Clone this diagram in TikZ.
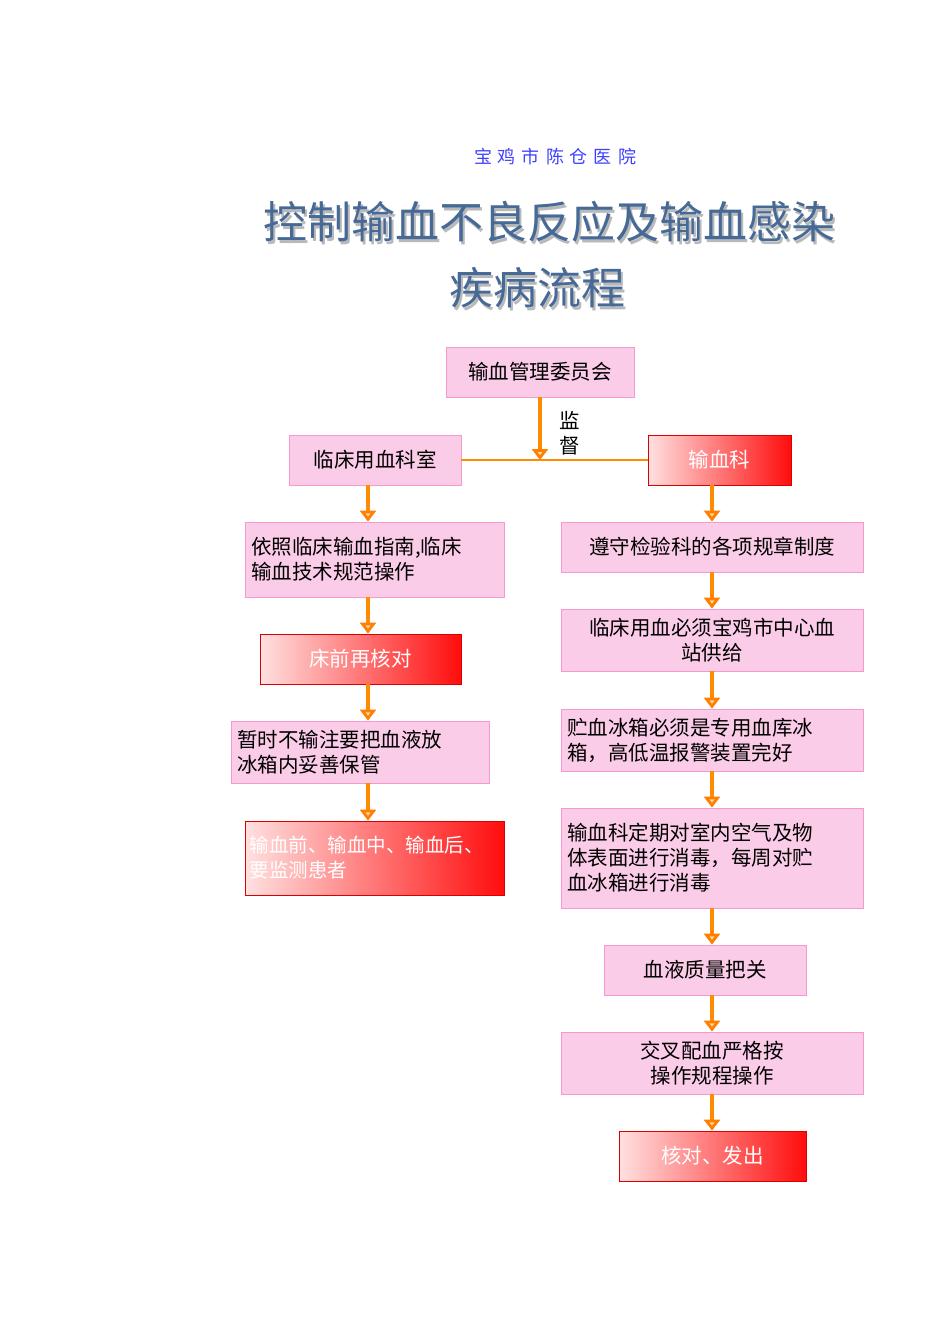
\documentclass[tikz,border=0pt]{standalone}
\usepackage{fontspec}
\newfontfamily\cjk{Noto Sans CJK SC}
\usetikzlibrary{arrows.meta,shadows}
\begin{document}
\begin{tikzpicture}[x=1pt,y=-1pt,font=\cjk\fontsize{20.5}{25}\selectfont,
  pbox/.style={draw=magenta!40,fill=magenta!20,line width=0.8pt,inner sep=4pt},
  rbox/.style={draw=red!85!black,line width=0.8pt,shading angle=60,left color=red!12,right color=red!95,text=white,inner sep=4pt},
  flow/.style={draw=orange!90!yellow,line width=4.5pt,-{Triangle[width=16pt,length=11pt,fill=orange!35,color=orange]}},
  hline/.style={draw=orange!90!yellow,line width=2.5pt}]
\useasboundingbox (0,0) rectangle (950,1344);
\coordinate (cl) at (368,0);
\coordinate (cr) at (712,0);
\node (hosp) at (555,157) {\fontsize{18}{20}\selectfont\color{blue!75}宝\,\,鸡\,\,市\,\,陈\,\,仓\,\,医\,\,院};
\node[text=gray!55] (s1) at (551.5,224.5) {\fontsize{44}{48}\selectfont 控制输血不良反应及输血感染};
\node[text=gray!55] (s2) at (539.5,290.5) {\fontsize{44}{48}\selectfont 疾病流程};
\node[text={rgb,255:red,70;green,105;blue,150}] (t1) at (549,222) {\fontsize{44}{48}\selectfont 控制输血不良反应及输血感染};
\node[text={rgb,255:red,70;green,105;blue,150}] (t2) at (537,288) {\fontsize{44}{48}\selectfont 疾病流程};

\node[pbox,minimum width=188,minimum height=50] (a) at (540,372) {输血管理委员会};
\node[pbox,minimum width=172,minimum height=50] (l0) at (375,460) {临床用血科室};
\node[rbox,minimum width=143,minimum height=50] (r0) at (719.5,460) {输血科};
\coordinate (j) at (540,460);
\draw[hline] (l0.east) -- (r0.west);
\draw[flow] (a) -- (j);
\node[align=center] (sup) at (570,433) {监\\督};

\node[pbox,minimum width=259,minimum height=75,text width=247,align=left] (l1) at (374.5,559.5) {依照临床输血指南,临床\\输血技术规范操作};
\node[rbox,minimum width=201,minimum height=50] (l2) at (360.5,659) {床前再核对};
\node[pbox,minimum width=258,minimum height=62,text width=246,align=left] (l3) at (360,752) {暂时不输注要把血液放\\冰箱内妥善保管};
\node[rbox,minimum width=259,minimum height=74,text width=250,align=left] (l4) at (374.5,858) {\fontsize{19.5}{24}\selectfont 输血前、输血中、输血后、\\要监测患者};

\node[pbox,minimum width=302,minimum height=50] (r1) at (712,547) {遵守检验科的各项规章制度};
\node[pbox,minimum width=302,minimum height=62,text width=290,align=center] (r2) at (712,640) {临床用血必须宝鸡市中心血\\站供给};
\node[pbox,minimum width=302,minimum height=62,text width=290,align=left] (r3) at (712,740) {贮血冰箱必须是专用血库冰\\箱，高低温报警装置完好};
\node[pbox,minimum width=302,minimum height=100,text width=290,align=left] (r4) at (712,858) {输血科定期对室内空气及物\\体表面进行消毒，每周对贮\\血冰箱进行消毒};
\node[pbox,minimum width=202,minimum height=50] (r5) at (705,970) {血液质量把关};
\node[pbox,minimum width=302,minimum height=62,align=center] (r6) at (712,1063) {交叉配血严格按\\操作规程操作};
\node[rbox,minimum width=187,minimum height=50] (r7) at (712.5,1156) {核对、发出};

\draw[flow] (l0.south -| cl) -- (l1.north -| cl);
\draw[flow] (l1.south -| cl) -- (l2.north -| cl);
\draw[flow] (l2.south -| cl) -- (l3.north -| cl);
\draw[flow] (l3.south -| cl) -- (l4.north -| cl);
\draw[flow] (r0.south -| cr) -- (r1.north -| cr);
\draw[flow] (r1.south -| cr) -- (r2.north -| cr);
\draw[flow] (r2.south -| cr) -- (r3.north -| cr);
\draw[flow] (r3.south -| cr) -- (r4.north -| cr);
\draw[flow] (r4.south -| cr) -- (r5.north -| cr);
\draw[flow] (r5.south -| cr) -- (r6.north -| cr);
\draw[flow] (r6.south -| cr) -- (r7.north -| cr);
\end{tikzpicture}
\end{document}
